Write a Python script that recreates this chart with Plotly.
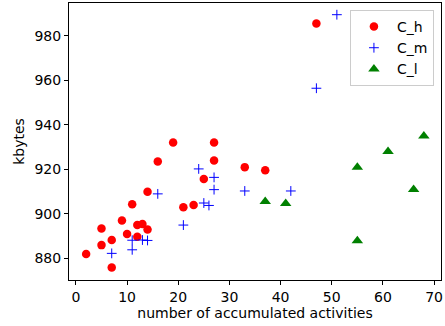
import plotly.graph_objects as go

# C_h series (red circles)
ch_x = [2, 5, 5, 7, 7, 9, 10, 11, 12, 12, 13, 14, 14, 16, 19, 21, 23, 25, 27, 27, 33, 37, 47]
ch_y = [882, 893.5, 886, 888.3, 876, 897, 891, 904.3, 895, 889.8, 895.5, 893, 910, 923.5, 932, 903, 904, 915.7, 932, 924, 921, 919.6, 985.5]

# C_m series (blue pluses)
cm_x = [7, 11, 11, 13, 14, 16, 21, 24, 25, 26, 27, 27, 33, 42, 47, 51]
cm_y = [882.3, 888.2, 883.9, 888.3, 888.1, 909, 895, 920.2, 904.9, 903.8, 916.4, 910.9, 910.3, 910.3, 956.4, 989.4]

# C_l series (green triangles)
cl_x = [37, 41, 55, 55, 61, 66, 68]
cl_y = [905.6, 904.7, 921, 888, 928, 911, 935]

xticks = [0, 10, 20, 30, 40, 50, 60, 70]
yticks = [880, 900, 920, 940, 960, 980]

fig = go.Figure()
fig.add_trace(go.Scatter(x=ch_x, y=ch_y, mode="markers", name="C_h",
                         marker=dict(symbol="circle", size=8.5, color="red")))
fig.add_trace(go.Scatter(x=cm_x, y=cm_y, mode="markers", name="C_m",
                         marker=dict(symbol="cross-thin", size=7, color="blue",
                                     line=dict(color="blue", width=1))))
fig.add_trace(go.Scatter(x=cl_x, y=cl_y, mode="markers", name="C_l",
                         marker=dict(symbol="triangle-up", size=10, color="green")))

axis_common = dict(showline=True, linecolor="black", linewidth=1, mirror=True,
                   ticks="outside", ticklen=4, tickcolor="black", showgrid=False,
                   zeroline=False, automargin=False,
                   tickfont=dict(size=14, color="black"))

fig.update_layout(
    width=445, height=326,
    margin=dict(l=69, r=4, t=3, b=46),
    paper_bgcolor="white", plot_bgcolor="white",
    font=dict(family="DejaVu Sans", size=14, color="black"),
    xaxis=dict(range=[-1.35, 71.35], tickvals=xticks,
               title=dict(text="number of accumulated activities", font=dict(size=14), standoff=4),
               **axis_common),
    yaxis=dict(range=[870.35, 994.65], tickvals=yticks,
               title=dict(text="kbytes", font=dict(size=14), standoff=6),
               **axis_common),
    legend=dict(x=0.981, y=0.975, xanchor="right", yanchor="top",
                bordercolor="#cccccc", borderwidth=1, bgcolor="rgba(255,255,255,0.8)",
                font=dict(size=14), itemwidth=36),
    showlegend=True,
)

fig.write_html("out.html", config={"displayModeBar": False},
               post_script="document.body.style.margin='0';")
